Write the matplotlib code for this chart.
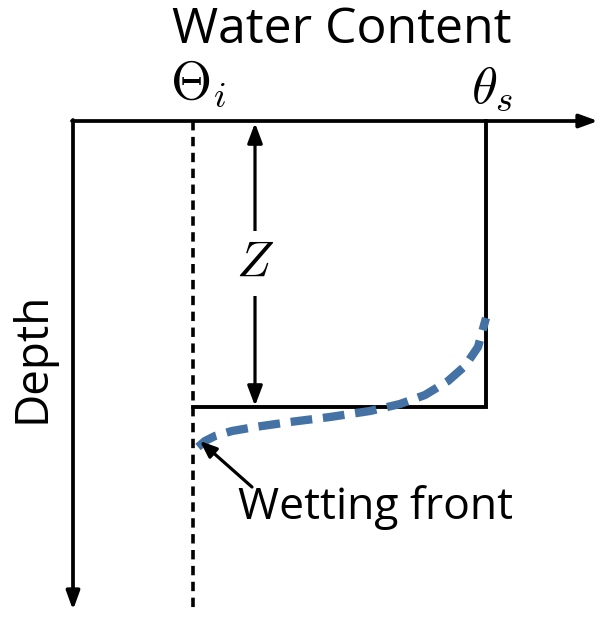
import numpy as np
import matplotlib
matplotlib.use('Agg')
import matplotlib.pyplot as plt

plt.rcParams['mathtext.fontset'] = 'cm'

# schematic values (water content on x, depth on y)
theta_i = 193
theta_s = 486
front_depth = 407
surface = 121
max_depth = 610
axis_left = 73
axis_right = 598

# wetting front curve
curve_theta = [198, 205, 215, 232, 255, 290, 330, 370, 400, 425, 448, 465, 478, 486]
curve_depth = [447, 441, 436, 431, 427, 422, 417, 411, 404, 395, 381, 366, 347, 318]

fig = plt.figure(figsize=(6.07, 6.28), dpi=100)
ax = fig.add_axes([0, 0, 1, 1])
ax.set_xlim(0, 607)
ax.set_ylim(628, 0)
ax.axis('off')

# axes arrows
ax.annotate('', xy=(axis_right, surface), xytext=(axis_left - 1, surface),
            arrowprops=dict(arrowstyle='-|>,head_length=1.1,head_width=0.4',
                            color='black', lw=2.7, shrinkA=0, shrinkB=0))
ax.annotate('', xy=(axis_left, max_depth), xytext=(axis_left, surface - 1),
            arrowprops=dict(arrowstyle='-|>,head_length=1.1,head_width=0.4',
                            color='black', lw=2.7, shrinkA=0, shrinkB=0))

# initial water content
ax.plot([theta_i, theta_i], [surface, max_depth], color='black', lw=2.6,
        dashes=(2.6, 1.8))

# saturated profile
ax.plot([theta_i, theta_s, theta_s], [front_depth, front_depth, surface],
        color='black', lw=2.8, solid_joinstyle='miter')

# wetting front
ax.plot(curve_theta, curve_depth, color='#4472a4', lw=6, dashes=(2.6, 1.3))

# depth Z
ax.annotate('', xy=(255, surface + 2), xytext=(255, front_depth - 1),
            arrowprops=dict(arrowstyle='<|-|>,head_length=1.2,head_width=0.45',
                            color='black', lw=2.3, shrinkA=0, shrinkB=0))
ax.text(255, 263, '$Z$', fontsize=36, ha='center', va='center',
        bbox=dict(facecolor='white', edgecolor='none', pad=6))

ax.text(342, 30, 'Water Content', fontsize=36, family='Open Sans',
        ha='center', va='center')
ax.text(198, 84, r'$\Theta_i$', fontsize=38, ha='center', va='center')
ax.text(492, 88, r'$\theta_s$', fontsize=38, ha='center', va='center')
ax.text(33, 357, 'Depth', fontsize=33, family='Open Sans', rotation=90,
        ha='center', va='center')
ax.text(376, 508, 'Wetting front', fontsize=32, family='Open Sans',
        ha='center', va='center')
ax.annotate('', xy=(200, 441), xytext=(252, 487),
            arrowprops=dict(arrowstyle='-|>,head_length=1.0,head_width=0.4',
                            color='black', lw=2.3, shrinkA=0, shrinkB=0))

fig.savefig('out.png', dpi=100)
